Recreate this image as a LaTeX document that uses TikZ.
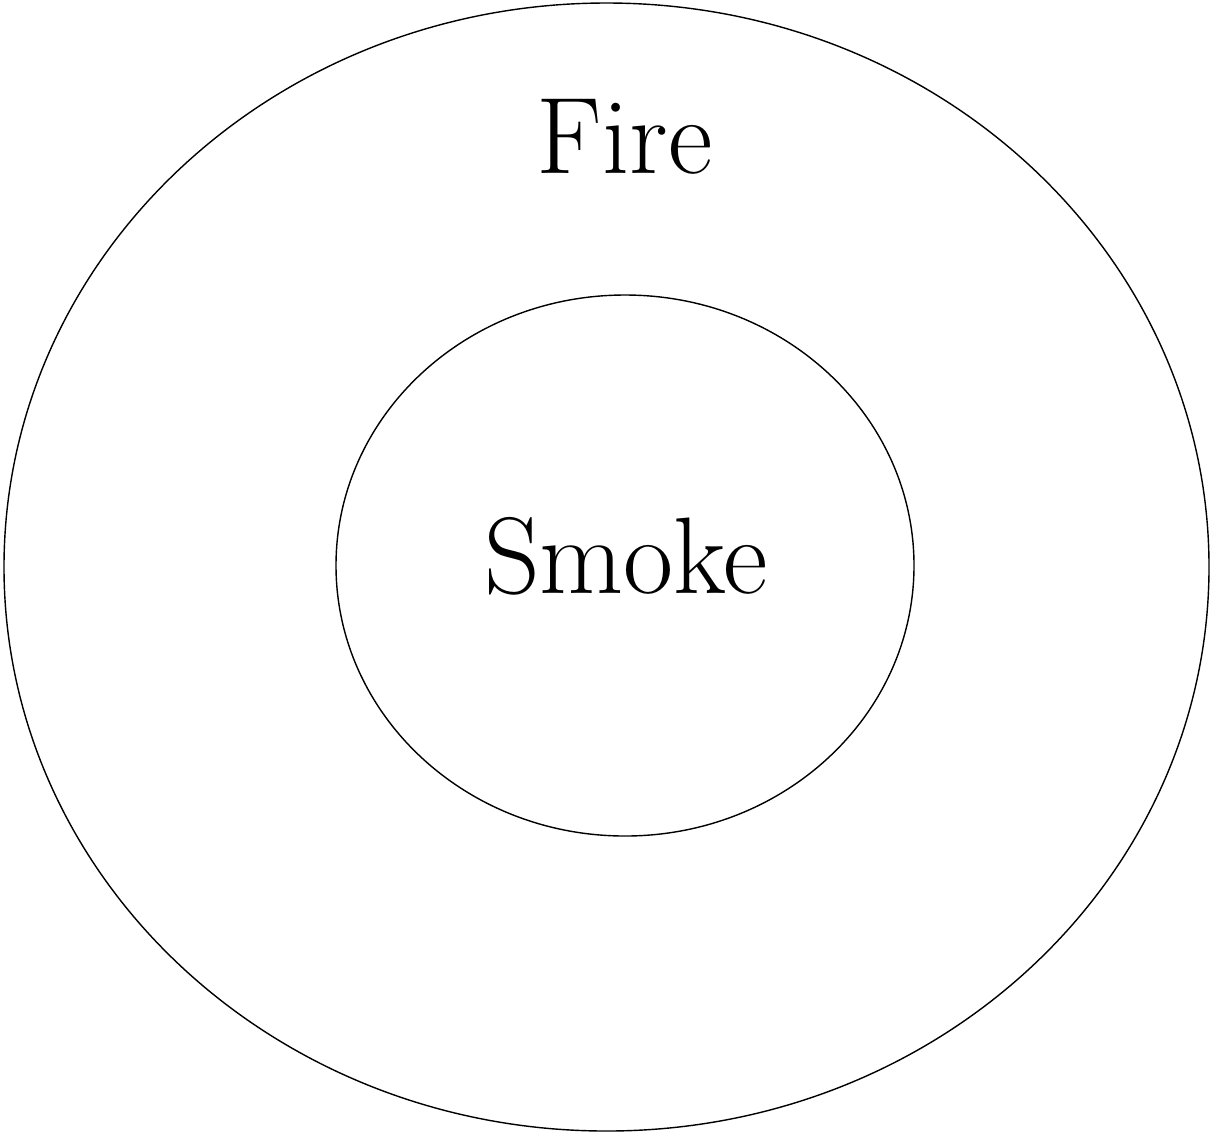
\documentclass[tikz,border=0pt]{standalone}
\begin{document}
\begin{tikzpicture}[x=0.02cm, y=-0.02cm, line width=0.8pt]
			\useasboundingbox (0,0) rectangle (1212,1134);
			
			% Cerchio esterno
			\draw (606.5,567) ellipse (602.5 and 564);
			
			% Cerchio interno
			\draw (625,565.5) ellipse (289 and 270.5);
			
			% Etichette
			\node[anchor=base, inner sep=0pt, font=\fontsize{62}{70}\selectfont] (fire) at (624.5,173) {Fire};
			\node[anchor=base, inner sep=0pt, font=\fontsize{62}{70}\selectfont] (smoke) at (626,593) {Smoke};
		\end{tikzpicture}
\end{document}
